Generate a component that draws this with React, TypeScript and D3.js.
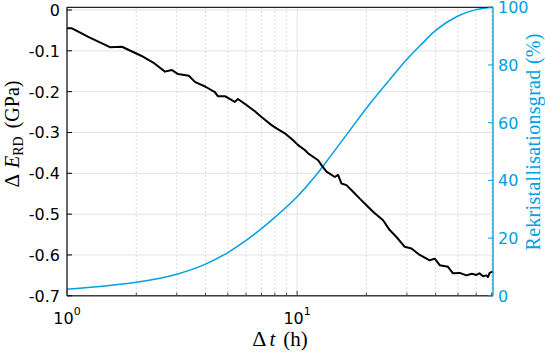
import { useRef, useEffect } from 'react';
import * as d3 from 'd3';

// Black curve: change of modulus (GPa) over time (h)
const tModulus = [1, 1.051, 1.25, 1.537, 1.733, 2.1, 2.4, 2.665, 2.857, 3.034, 3.386, 3.596, 4.0, 4.391, 4.525, 4.853, 5.364, 5.528, 5.928, 6.553, 7.003, 7.742, 8.139, 8.844, 9.608, 10.1, 10.8, 11.16, 12.34, 12.76, 13.42, 14.58, 15.07, 15.59, 16.39, 17.51, 18.72, 20.02, 21.38, 23.63, 25.26, 27.02, 29.36, 31.4, 34.11, 37.7, 39.63, 41.66, 45.26, 47.58, 50.88, 54.39, 57.5, 60.12, 62.0, 64.23, 66.45, 67.5, 68.66, 71];
const dModulus = [-0.045, -0.045, -0.067, -0.091, -0.090, -0.112, -0.131, -0.151, -0.147, -0.157, -0.161, -0.176, -0.188, -0.201, -0.211, -0.211, -0.225, -0.218, -0.230, -0.248, -0.262, -0.282, -0.290, -0.302, -0.319, -0.331, -0.343, -0.351, -0.368, -0.380, -0.396, -0.409, -0.404, -0.425, -0.429, -0.445, -0.462, -0.478, -0.494, -0.515, -0.539, -0.556, -0.580, -0.584, -0.600, -0.613, -0.609, -0.625, -0.629, -0.645, -0.644, -0.650, -0.646, -0.649, -0.645, -0.652, -0.650, -0.654, -0.644, -0.640];

// Blue curve: recrystallisation degree (%)
const tRx = [1, 1.5, 2, 3, 4, 5, 6, 7, 8, 10, 12, 14, 17, 20, 25, 30, 35, 40, 50, 60, 71];
const rxValues = [2.3, 3.5, 4.7, 7.5, 11.0, 15.0, 19.2, 23.3, 27.2, 34.3, 41.5, 48.5, 57.5, 65, 74.5, 82, 87.5, 92, 97, 99.2, 100];

const leftTicks = [-0.7, -0.6, -0.5, -0.4, -0.3, -0.2, -0.1, 0];
const leftTickLabels = ['-0.7', '-0.6', '-0.5', '-0.4', '-0.3', '-0.2', '-0.1', '0'];
const rightTicks = [0, 20, 40, 60, 80, 100];
const xDecades = [0, 1];
const xMinor = [2, 3, 4, 5, 6, 7, 8, 9, 20, 30, 40, 50, 60, 70];

const BLUE = '#00a0e2';

export default function App() {
  const svgRef = useRef<SVGSVGElement>(null);

  useEffect(() => {
    if (!svgRef.current) return;
    const svg = d3.select(svgRef.current);
    svg.selectAll('*').remove();

    const left = 67, right = 493, top = 7.3, bottom = 295.8;

    const x = d3.scaleLog().domain([1, 71]).range([left, right]);
    const yL = d3.scaleLinear().domain([-0.7, 0.0066]).range([bottom, top]);
    const yR = d3.scaleLinear().domain([0, 100]).range([bottom, top]);

    const g = svg.append('g');

    // grid
    g.selectAll('.minor')
      .data(xMinor)
      .enter()
      .append('line')
      .attr('x1', d => x(d)).attr('x2', d => x(d))
      .attr('y1', top).attr('y2', bottom)
      .attr('stroke', '#cfcfcf')
      .attr('stroke-width', 1)
      .attr('stroke-dasharray', '1.5,2.5');

    g.selectAll('.major')
      .data(xDecades.slice(1))
      .enter()
      .append('line')
      .attr('x1', d => x(Math.pow(10, d))).attr('x2', d => x(Math.pow(10, d)))
      .attr('y1', top).attr('y2', bottom)
      .attr('stroke', '#e2e2e2')
      .attr('stroke-width', 1);

    g.selectAll('.hgrid')
      .data(leftTicks)
      .enter()
      .append('line')
      .attr('x1', left).attr('x2', right)
      .attr('y1', d => yL(d)).attr('y2', d => yL(d))
      .attr('stroke', '#e2e2e2')
      .attr('stroke-width', 1);

    // curves
    const blueLine = d3.line<number>()
      .x((_, i) => x(tRx[i]))
      .y(d => yR(d))
      .curve(d3.curveMonotoneX);
    g.append('path')
      .attr('d', blueLine(rxValues))
      .attr('fill', 'none')
      .attr('stroke', BLUE)
      .attr('stroke-width', 1.5);

    const blackLine = d3.line<number>()
      .x((_, i) => x(tModulus[i]))
      .y(d => yL(d));
    g.append('path')
      .attr('d', blackLine(dModulus))
      .attr('fill', 'none')
      .attr('stroke', '#000')
      .attr('stroke-width', 2)
      .attr('stroke-linejoin', 'round');

    // box
    g.append('line').attr('x1', left).attr('x2', right).attr('y1', top).attr('y2', top)
      .attr('stroke', '#222').attr('stroke-width', 1.2);
    g.append('line').attr('x1', left).attr('x2', right).attr('y1', bottom).attr('y2', bottom)
      .attr('stroke', '#404040').attr('stroke-width', 1.6);
    g.append('line').attr('x1', left).attr('x2', left).attr('y1', top).attr('y2', bottom)
      .attr('stroke', '#000').attr('stroke-width', 1.2);
    g.append('line').attr('x1', right).attr('x2', right).attr('y1', top).attr('y2', bottom)
      .attr('stroke', BLUE).attr('stroke-width', 1.4);

    const font = '"DejaVu Sans", sans-serif';

    // left ticks
    leftTicks.forEach((v, i) => {
      g.append('line').attr('x1', left).attr('x2', left + 5)
        .attr('y1', yL(v)).attr('y2', yL(v)).attr('stroke', '#000');
      g.append('text')
        .attr('x', 60).attr('y', yL(v) + 6)
        .attr('text-anchor', 'end')
        .attr('font-family', font).attr('font-size', 16)
        .attr('fill', '#000')
        .text(leftTickLabels[i]);
    });

    // right ticks
    rightTicks.forEach(v => {
      g.append('line').attr('x1', right - 5).attr('x2', right)
        .attr('y1', yR(v)).attr('y2', yR(v)).attr('stroke', BLUE);
      g.append('text')
        .attr('x', 498).attr('y', yR(v) + 6)
        .attr('text-anchor', 'start')
        .attr('font-family', font).attr('font-size', 16)
        .attr('fill', BLUE)
        .text(String(v));
    });

    // bottom ticks
    xMinor.forEach(v => {
      g.append('line').attr('x1', x(v)).attr('x2', x(v))
        .attr('y1', bottom).attr('y2', bottom - 3).attr('stroke', '#404040');
    });
    xDecades.forEach(d => {
      const px = x(Math.pow(10, d));
      g.append('line').attr('x1', px).attr('x2', px)
        .attr('y1', bottom).attr('y2', bottom - 5).attr('stroke', '#404040');
      const t = g.append('text')
        .attr('x', px).attr('y', 324)
        .attr('text-anchor', 'middle')
        .attr('font-family', font).attr('font-size', 16)
        .attr('fill', '#000');
      t.append('tspan').text('10');
      t.append('tspan').attr('dy', -9).attr('font-size', 11).text(String(d));
    });

    // axis labels
    const serif = '"Liberation Serif", "Times New Roman", serif';
    const xl = g.append('text')
      .attr('x', 280).attr('y', 346)
      .attr('text-anchor', 'middle')
      .attr('font-family', serif).attr('font-size', 21)
      .attr('fill', '#000');
    xl.append('tspan').attr('font-size', 22).text('Δ');
    xl.append('tspan').attr('font-style', 'italic').attr('dx', 3).text('t');
    xl.append('tspan').attr('dx', 8).text('(h)');

    const yl = g.append('text')
      .attr('transform', 'translate(18.5,134) rotate(-90)')
      .attr('text-anchor', 'middle')
      .attr('font-family', serif).attr('font-size', 20)
      .attr('fill', '#000');
    yl.append('tspan').attr('font-size', 21).text('Δ');
    yl.append('tspan').attr('font-style', 'italic').attr('dx', 6).text('E');
    yl.append('tspan').attr('font-size', 14).attr('dy', 4).text('RD');
    yl.append('tspan').attr('dy', -4).attr('dx', 8).text('(GPa)');

    g.append('text')
      .attr('transform', 'translate(540,142) rotate(-90)')
      .attr('text-anchor', 'middle')
      .attr('font-family', serif).attr('font-size', 20)
      .attr('fill', BLUE)
      .attr('textLength', 217)
      .attr('lengthAdjust', 'spacing')
      .text('Rekristallisationsgrad (%)');
  }, []);

  return (
    <div style={{ position: 'fixed', left: 0, top: 0, width: 545, height: 355, background: '#fff' }}>
      <svg ref={svgRef} width={545} height={355} />
    </div>
  );
}
